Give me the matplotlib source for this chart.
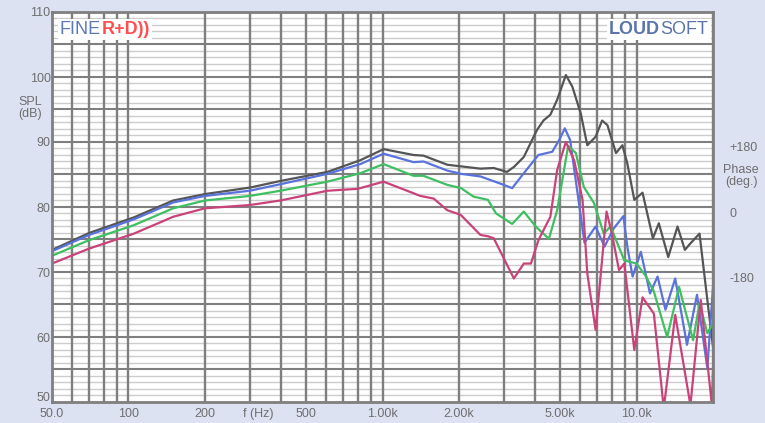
import numpy as np
import matplotlib
matplotlib.use('Agg')
import matplotlib.pyplot as plt

plt.rcParams['font.family'] = ['Liberation Sans', 'DejaVu Sans']

# SPL curves (frequency in Hz, level in dB)
black_f = [50, 70, 105, 150, 201, 302, 396, 607, 818, 1010, 1325, 1450, 1800, 2430, 2740,
           3090, 3300, 3600, 4050, 4300, 4580, 4870, 5270, 5590, 6030, 6400, 6900, 7320, 7680, 8300,
           8800, 9200, 9800, 10560, 11600, 12240, 13330, 14500, 15500, 16300, 17700, 19000, 20000]
black_db = [73.4, 76.0, 78.4, 81.0, 82.0, 83.0, 84.0, 85.4, 87.2, 88.9, 88.0, 87.9, 86.5, 85.9, 86.0,
            85.4, 86.2, 87.7, 91.8, 93.3, 94.2, 96.5, 100.3, 98.5, 94.4, 89.5, 90.8, 93.3, 92.6, 88.3,
            89.5, 86.7, 81.1, 82.2, 75.2, 77.5, 72.3, 77.0, 73.4, 74.4, 75.9, 65.7, 58.5]

blue_f = [50, 70, 105, 150, 200, 300, 396, 607, 818, 1010, 1325, 1450, 1800, 2040, 2430, 2910,
          3240, 3600, 4110, 4660, 4960, 5220, 5480, 5860, 6240, 6900, 7480, 8130, 8880, 9200,
          9650, 10400, 11300, 12100, 13000, 14200, 15800, 17300, 19000, 20000]
blue_db = [73.2, 75.7, 78.1, 80.7, 81.7, 82.5, 83.5, 85.1, 86.6, 88.2, 86.9, 87.0, 85.6, 85.1, 84.7, 83.6,
           82.9, 85.2, 88.0, 88.5, 90.3, 92.1, 90.3, 82.1, 74.5, 77.0, 73.9, 76.7, 78.6, 73.9,
           69.3, 73.1, 66.7, 69.3, 64.2, 69.0, 58.8, 66.5, 55.2, 67.7]

green_f = [50, 70, 105, 150, 200, 300, 396, 607, 818, 1010, 1325, 1450, 1800, 2040, 2280, 2600,
           2800, 3240, 3600, 4010, 4520, 4870, 5380, 5770, 6200, 6800, 7430, 7900, 8950, 10000,
           10900, 11700, 13200, 14700, 16700, 17700, 19000, 20000]
green_db = [72.5, 74.9, 77.2, 79.8, 81.0, 81.7, 82.5, 83.9, 85.2, 86.6, 84.8, 84.8, 83.4, 82.9, 81.6, 81.1,
            79.0, 77.4, 79.3, 77.0, 75.1, 79.5, 89.4, 88.3, 83.1, 80.6, 75.9, 77.0, 71.8, 71.3,
            69.3, 67.0, 60.0, 67.7, 59.5, 65.2, 60.6, 62.1]

red_f = [50, 70, 105, 150, 200, 300, 396, 607, 800, 1010, 1410, 1590, 1800, 2030, 2430, 2600,
         2740, 3030, 3290, 3600, 3840, 4110, 4580, 4870, 5270, 5680, 6130, 6400, 6900, 7620,
         8000, 8530, 8950, 9800, 10560, 11700, 12800, 14200, 16300, 17900, 19800, 20000]
red_db = [71.3, 73.6, 75.9, 78.5, 79.8, 80.3, 81.0, 82.5, 82.8, 83.9, 81.7, 81.3, 79.5, 78.8, 75.7, 75.5,
          75.2, 71.8, 69.0, 71.3, 71.3, 74.9, 78.5, 85.7, 90.0, 87.2, 81.1, 69.8, 61.1, 79.3,
          75.9, 70.3, 71.3, 58.0, 66.1, 63.6, 49.0, 63.4, 49.5, 65.7, 49.5, 54.9]

x_ticks = [50, 100, 200, 325, 500, 1000, 2000, 5000, 10000]
x_labels = ['50.0', '100', '200', 'f (Hz)', '500', '1.00k', '2.00k', '5.00k', '10.0k']
y_ticks = [60, 70, 80, 90, 100, 110]
phase_ticks = [-180, 0, 180]
phase_labels = ['-180', '0', '+180']

bg = '#dde2f3'
major = '#7f7f7f'
minor = '#cccccc'
txt = '#6e6e6e'

fig = plt.figure(figsize=(7.65, 4.23), dpi=100, facecolor=bg)
ax = fig.add_axes([52 / 765, 1 - 402 / 423, (713 - 52) / 765, 390 / 423])
ax.set_facecolor('white')
ax.set_xscale('log')
ax.set_xlim(50, 20000)
ax.set_ylim(50, 110)

# grid lines
for v in range(51, 110):
    if v % 5:
        ax.axhline(v, color=minor, lw=1.0, zorder=1)
for v in range(55, 110, 5):
    ax.axhline(v, color=major, lw=1.5, zorder=2)
vlines = [60, 70, 80, 90] + list(range(100, 1000, 100)) + list(range(1000, 10000, 1000)) + [10000, 20000]
for f in vlines:
    ax.axvline(f, color=major, lw=1.7, zorder=2)

ax.plot(black_f, black_db, color='#555555', lw=1.6, zorder=5)
ax.plot(blue_f, blue_db, color='#5a72dc', lw=1.6, zorder=6)
ax.plot(green_f, green_db, color='#3fbf62', lw=1.6, zorder=7)
ax.plot(red_f, red_db, color='#c9437a', lw=1.6, zorder=8)

for s in ax.spines.values():
    s.set_color(major)
    s.set_linewidth(2)
    s.set_zorder(10)

ax.set_xticks(x_ticks)
ax.set_xticklabels(x_labels)
ax.xaxis.set_minor_locator(matplotlib.ticker.NullLocator())
ax.set_yticks(y_ticks)
ax.tick_params(length=0, labelsize=9, labelcolor=txt)
ax.tick_params(axis='x', pad=4)
ax.tick_params(axis='y', pad=1)
# bottom "50" label sits just above the x labels
fig.text(50 / 765, 1 - 398 / 423, '50', ha='right', va='center', fontsize=9, color=txt)

ax2 = ax.twinx()
ax2.set_ylim(-521, 551)
ax2.set_yticks(phase_ticks)
ax2.set_yticklabels(phase_labels)
ax2.tick_params(length=0, labelsize=9, labelcolor=txt, pad=12)
for s in ax2.spines.values():
    s.set_visible(False)

fig.text(30 / 765, 1 - 108 / 423, 'SPL\n(dB)', ha='center', va='center', fontsize=9, color=txt,
         linespacing=1.1)
fig.text(741 / 765, 1 - 176 / 423, 'Phase\n(deg.)', ha='center', va='center', fontsize=9, color=txt,
         linespacing=1.1)

# logos
fine = ax.text(0.012, 0.955, 'FINE', transform=ax.transAxes, fontsize=13, color='#5b79b6',
               va='center', ha='left', zorder=20,
               bbox=dict(facecolor='white', edgecolor='none', pad=1.5))
fig.canvas.draw()
bb = fine.get_window_extent().transformed(ax.transAxes.inverted())
ax.text(bb.x1 + 0.001, 0.955, 'R+D))', transform=ax.transAxes, fontsize=13, color='#ff4f4f',
        fontweight='bold', va='center', ha='left', zorder=20,
        bbox=dict(facecolor='white', edgecolor='none', pad=1.5))
soft = ax.text(0.993, 0.955, 'SOFT', transform=ax.transAxes, fontsize=13, color='#5a74ae',
               va='center', ha='right', zorder=20,
               bbox=dict(facecolor='white', edgecolor='none', pad=1.5))
fig.canvas.draw()
bb2 = soft.get_window_extent().transformed(ax.transAxes.inverted())
ax.text(bb2.x0 - 0.001, 0.955, 'LOUD', transform=ax.transAxes, fontsize=13, color='#5a74ae',
        fontweight='bold', va='center', ha='right', zorder=20,
        bbox=dict(facecolor='white', edgecolor='none', pad=1.5))

fig.savefig('out.png', dpi=100, facecolor=bg)
